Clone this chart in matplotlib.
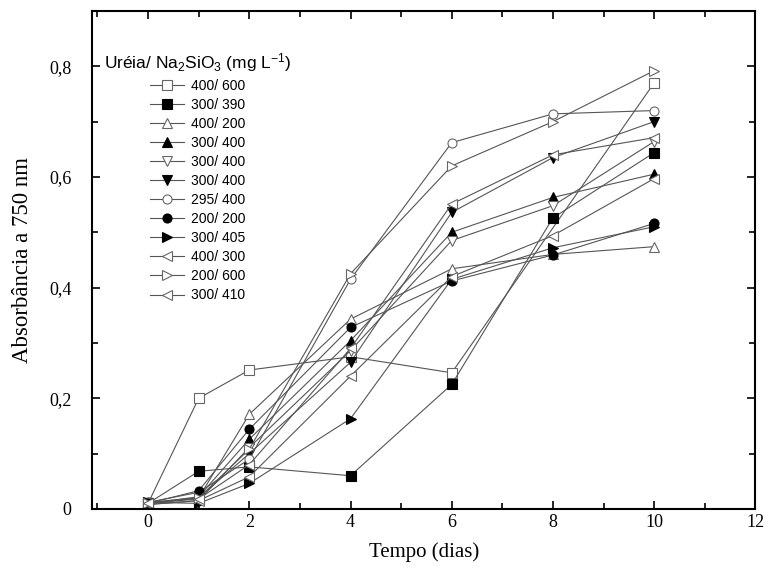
import numpy as np
import matplotlib
matplotlib.use("Agg")
import matplotlib.pyplot as plt
from matplotlib.ticker import MultipleLocator, FuncFormatter

plt.rcParams["mathtext.fontset"] = "custom"
plt.rcParams["mathtext.rm"] = "Liberation Sans"
plt.rcParams["mathtext.it"] = "Liberation Sans:italic"

days = [0, 1, 2, 4, 6, 8, 10]

labels = ["400/ 600", "300/ 390", "400/ 200", "300/ 400", "300/ 400", "300/ 400",
          "295/ 400", "200/ 200", "300/ 405", "400/ 300", "200/ 600", "300/ 410"]

s_400_600a = [0.010, 0.200, 0.251, 0.275, 0.246, np.nan, 0.770]
s_300_390 = [0.010, 0.068, 0.076, 0.060, 0.225, 0.526, 0.644]
s_400_200 = [0.012, 0.020, 0.171, 0.343, 0.434, 0.460, 0.474]
s_300_400a = [0.010, 0.022, 0.126, 0.304, 0.500, 0.563, 0.605]
s_300_400b = [0.008, 0.015, 0.111, 0.286, 0.485, 0.548, 0.664]
s_300_400c = [0.010, 0.020, 0.100, 0.265, 0.536, 0.635, 0.700]
s_295_400 = [0.012, 0.030, 0.090, 0.415, 0.662, 0.714, 0.720]
s_200_200 = [0.010, 0.033, 0.144, 0.328, 0.412, 0.459, 0.516]
s_300_405 = [0.012, 0.010, 0.046, 0.163, 0.415, 0.472, 0.510]
s_400_300 = [0.008, 0.015, 0.058, 0.240, 0.420, 0.494, 0.597]
s_200_600 = [0.010, 0.020, 0.108, 0.425, 0.620, 0.700, 0.792]
s_300_410 = [0.010, 0.018, 0.080, 0.290, 0.551, 0.640, 0.671]

series = [s_400_600a, s_300_390, s_400_200, s_300_400a, s_300_400b, s_300_400c,
          s_295_400, s_200_200, s_300_405, s_400_300, s_200_600, s_300_410]

markers = ["s", "s", "^", "^", "v", "v", "o", "o", ">", "<", ">", "<"]
filled = [False, True, False, True, False, True, False, True, True, False, False, False]

fig = plt.figure(figsize=(7.7, 5.77), dpi=100)
ax = fig.add_axes([0.120, 0.118, 0.861, 0.863])

x = np.array(days, dtype=float)
for vals, lab, m, f in zip(series, labels, markers, filled):
    y = np.array(vals, dtype=float)
    ok = ~np.isnan(y)
    ax.plot(x[ok], y[ok], color="#555555", lw=0.8, marker=m, ms=6.5,
            mfc="black" if f else "white", mec="black" if f else "#666666",
            mew=0.8, label=lab)

ax.set_xlim(-1.1, 12)
ax.set_ylim(0, 0.9)
ax.xaxis.set_major_locator(MultipleLocator(2))
ax.xaxis.set_minor_locator(MultipleLocator(1))
ax.yaxis.set_major_locator(MultipleLocator(0.2))
ax.yaxis.set_minor_locator(MultipleLocator(0.1))
ax.yaxis.set_major_formatter(FuncFormatter(lambda v, p: "0" if abs(v) < 1e-9 else f"{v:.1f}".replace(".", ",")))
ax.tick_params(which="both", direction="in", top=True, right=True, width=1.2)
ax.tick_params(which="major", length=6)
ax.tick_params(which="minor", length=4)
ax.tick_params(axis="y", which="major", pad=15)
for lab in ax.get_xticklabels() + ax.get_yticklabels():
    lab.set_family("Liberation Serif")
    lab.set_fontsize(13)
for sp in ax.spines.values():
    sp.set_linewidth(1.5)

ax.set_xlabel("Tempo (dias)", family="Liberation Serif", fontsize=15, labelpad=8)
ax.set_ylabel("Absorbância a 750 nm", family="Liberation Serif", fontsize=16.5)
ax.yaxis.set_label_coords(-0.09, 0.5)

leg = ax.legend(loc="upper left", bbox_to_anchor=(0.005, 0.937), frameon=False,
                title="Uréia/ Na$_2$SiO$_3$ (mg L$^{-1}$)",
                prop={"family": "Liberation Sans", "size": 10},
                title_fontproperties={"family": "Liberation Sans", "size": 12.5},
                handlelength=2.5, labelspacing=0.365, handletextpad=0.5,
                borderaxespad=0.2)

fig.savefig("out.png", dpi=100)
